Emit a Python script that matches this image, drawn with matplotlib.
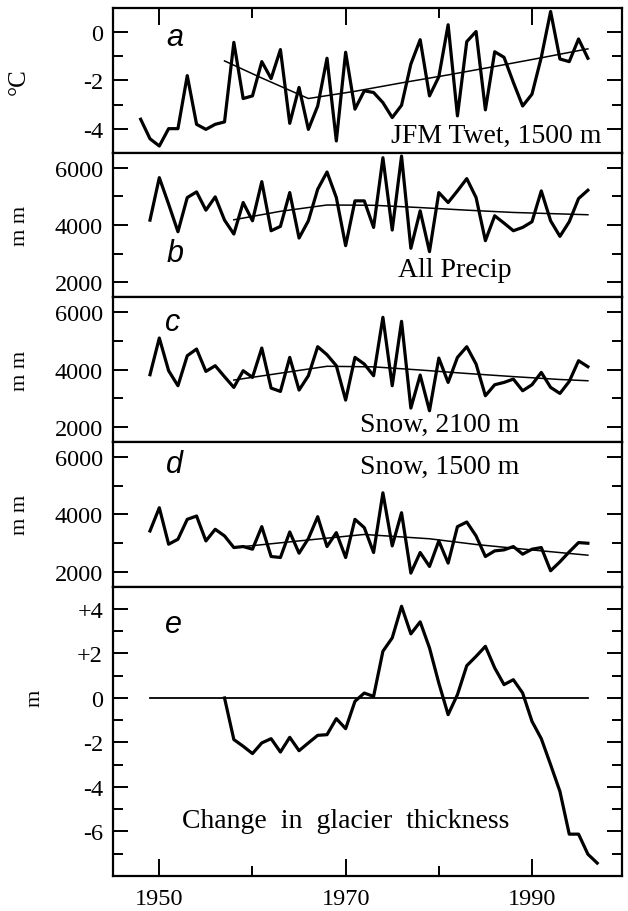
import numpy as np
import matplotlib
matplotlib.use('Agg')
import matplotlib.pyplot as plt
from matplotlib.ticker import FixedLocator, FixedFormatter

plt.rcParams['font.family'] = ['Liberation Serif', 'DejaVu Serif']
plt.rcParams['axes.unicode_minus'] = False

# annual series
years_a = np.arange(1948, 1997)
years_bcd = np.arange(1949, 1997)
years_e = np.arange(1957, 1998)

jfm_twet = [-3.61, -4.42, -4.72, -4.0, -4.0, -1.8, -3.82, -4.03, -3.82, -3.72,
            -0.42, -2.75, -2.64, -1.22, -1.92, -0.72, -3.78, -2.29, -4.03, -3.06,
            -1.08, -4.51, -0.83, -3.19, -2.43, -2.5, -2.92, -3.54, -3.03, -1.32,
            -0.31, -2.64, -1.85, 0.31, -3.47, -0.39, 0.03, -3.22, -0.81, -1.04,
            -2.08, -3.06, -2.57, -1.04, 0.86, -1.11, -1.22, -0.28, -1.08]
all_precip = [4173, 5653, 4728, 3769, 4960, 5156, 4520, 4983, 4173, 3688,
              4786, 4150, 5514, 3803, 3954, 5133, 3549, 4150, 5249, 5850,
              4960, 3283, 4844, 4844, 3919, 6347, 3827, 6405, 3191, 4497,
              3075, 5133, 4786, 5191, 5619, 4960, 3457, 4324, 4069, 3803,
              3919, 4116, 5191, 4150, 3607, 4116, 4925, 5214]
snow_2100 = [3826, 5105, 3965, 3442, 4488, 4721, 3942, 4140, 3756, 3384,
             3965, 3733, 4756, 3360, 3244, 4430, 3291, 3791, 4802, 4523,
             4140, 2942, 4430, 4198, 3791, 5826, 3442, 5686, 2663, 3814,
             2570, 4407, 3558, 4430, 4802, 4198, 3093, 3477, 3558, 3674,
             3267, 3477, 3907, 3384, 3174, 3593, 4314, 4105]
snow_1500 = [3422, 4231, 2960, 3133, 3827, 3942, 3075, 3480, 3249, 2844,
             2879, 2786, 3572, 2532, 2497, 3387, 2647, 3156, 3919, 2879,
             3364, 2497, 3827, 3538, 2671, 4751, 2902, 4058, 1954, 2671,
             2185, 3075, 2301, 3572, 3734, 3249, 2532, 2728, 2763, 2879,
             2613, 2786, 2844, 2035, 2347, 2694, 3017, 2994]
thickness = [0.0, -1.87, -2.17, -2.5, -2.02, -1.83, -2.43, -1.77, -2.37, -2.02,
             -1.68, -1.65, -0.93, -1.38, -0.15, 0.22, 0.07, 2.1, 2.7, 4.12,
             2.88, 3.42, 2.25, 0.67, -0.75, 0.15, 1.45, 1.87, 2.32, 1.35,
             0.6, 0.82, 0.22, -1.05, -1.83, -3.0, -4.2, -6.12, -6.12, -7.02,
             -7.42]

# smoothed trend lines (knots)
trend_a_years = [1957, 1961, 1966, 1971, 1976, 1981, 1986, 1991, 1996]
trend_a = [-1.19, -1.9, -2.75, -2.45, -2.1, -1.77, -1.42, -1.06, -0.69]
trend_b_years = [1958, 1963, 1968, 1973, 1978, 1983, 1988, 1993, 1996]
trend_b = [4185, 4480, 4700, 4690, 4610, 4520, 4440, 4390, 4360]
trend_c_years = [1958, 1963, 1968, 1973, 1978, 1983, 1988, 1993, 1996]
trend_c = [3640, 3880, 4120, 4100, 3990, 3870, 3760, 3660, 3616]
trend_d_years = [1958, 1965, 1972, 1979, 1984, 1990, 1996]
trend_d = [2844, 3075, 3300, 3150, 2950, 2760, 2578]
zero_years = [1949, 1996]

fig, axes = plt.subplots(5, 1, figsize=(6.28, 9.12), dpi=100,
                         gridspec_kw={'height_ratios': [1, 1, 1, 1, 2]})
fig.subplots_adjust(left=0.1795, right=0.991, top=0.990, bottom=0.0384, hspace=0)
ax_a, ax_b, ax_c, ax_d, ax_e = axes

lw_data = 2.3
lw_trend = 1.1
tick_fs = 17.5

ax_a.plot(years_a, jfm_twet, color='black', lw=lw_data)
ax_a.plot(trend_a_years, trend_a, color='black', lw=lw_trend)
ax_b.plot(years_bcd, all_precip, color='black', lw=lw_data)
ax_b.plot(trend_b_years, trend_b, color='black', lw=lw_trend)
ax_c.plot(years_bcd, snow_2100, color='black', lw=lw_data)
ax_c.plot(trend_c_years, trend_c, color='black', lw=lw_trend)
ax_d.plot(years_bcd, snow_1500, color='black', lw=lw_data)
ax_d.plot(trend_d_years, trend_d, color='black', lw=lw_trend)
ax_e.plot(zero_years, [0, 0], color='black', lw=1.3)
ax_e.plot(years_e, thickness, color='black', lw=lw_data)

# y axes
ax_a.set_ylim(-5, 1)
ax_a.yaxis.set_major_locator(FixedLocator([-4, -2, 0]))
ax_a.yaxis.set_major_formatter(FixedFormatter(['-4', '-2', '0']))
ax_a.yaxis.set_minor_locator(FixedLocator([-3, -1]))
for ax in (ax_b, ax_c, ax_d):
    ax.set_ylim(1480, 6520)
    ax.yaxis.set_major_locator(FixedLocator([2000, 4000, 6000]))
    ax.yaxis.set_minor_locator(FixedLocator([3000, 5000]))
ax_e.set_ylim(-8, 5)
ax_e.yaxis.set_major_locator(FixedLocator([-6, -4, -2, 0, 2, 4]))
ax_e.yaxis.set_major_formatter(FixedFormatter(['-6', '-4', '-2', '0', '+2', '+4']))
ax_e.yaxis.set_minor_locator(FixedLocator([-7, -5, -3, -1, 1, 3]))

for ax in axes:
    ax.set_xlim(1945, 1999.7)
    ax.xaxis.set_major_locator(FixedLocator([1950, 1970, 1990]))
    ax.xaxis.set_minor_locator(FixedLocator([1960, 1980]))
    for s in ax.spines.values():
        s.set_linewidth(1.6)
    ax.tick_params(axis='y', which='both', direction='in', left=True, right=True,
                   width=1.4, labelsize=tick_fs, pad=7)
    ax.tick_params(axis='y', which='major', length=11)
    ax.tick_params(axis='y', which='minor', length=7)
    ax.tick_params(axis='x', which='both', direction='in', top=False, bottom=False,
                   labelbottom=False, width=1.4)
    ax.tick_params(axis='x', which='major', length=12)
    ax.tick_params(axis='x', which='minor', length=7)

ax_a.tick_params(axis='x', which='both', top=True)
ax_e.tick_params(axis='x', which='both', bottom=True, labelbottom=True,
                 labelsize=tick_fs, pad=9)

# axis labels
ax_a.set_ylabel('°C', fontsize=18)
ax_b.set_ylabel('m m', fontsize=16)
ax_c.set_ylabel('m m', fontsize=16)
ax_d.set_ylabel('m m', fontsize=16)
ax_e.set_ylabel('m', fontsize=16)
for ax in (ax_a, ax_b, ax_c, ax_d):
    ax.yaxis.set_label_coords(-0.163, 0.5)
ax_e.yaxis.set_label_coords(-0.133, 0.617)

# panel letters
letter_font = dict(family=['Liberation Sans', 'DejaVu Sans'], style='italic',
                   fontsize=22, ha='center', va='center')
ax_a.text(0.122, 0.80, 'a', transform=ax_a.transAxes, **letter_font)
ax_b.text(0.122, 0.31, 'b', transform=ax_b.transAxes, **letter_font)
ax_c.text(0.118, 0.83, 'c', transform=ax_c.transAxes, **letter_font)
ax_d.text(0.122, 0.85, 'd', transform=ax_d.transAxes, **letter_font)
ax_e.text(0.12, 0.87, 'e', transform=ax_e.transAxes, **letter_font)

# panel captions
cap_fs = 20
ax_a.text(0.959, 0.078, 'JFM Twet, 1500 m', transform=ax_a.transAxes,
          fontsize=cap_fs, ha='right', va='baseline')
ax_b.text(0.559, 0.15, 'All Precip', transform=ax_b.transAxes,
          fontsize=cap_fs, ha='left', va='baseline')
ax_c.text(0.485, 0.075, 'Snow, 2100 m', transform=ax_c.transAxes,
          fontsize=cap_fs, ha='left', va='baseline')
ax_d.text(0.485, 0.787, 'Snow, 1500 m', transform=ax_d.transAxes,
          fontsize=cap_fs, ha='left', va='baseline')
ax_e.text(0.135, 0.168, 'Change  in  glacier  thickness', transform=ax_e.transAxes,
          fontsize=cap_fs, ha='left', va='baseline')

fig.savefig('out.png', dpi=100)
